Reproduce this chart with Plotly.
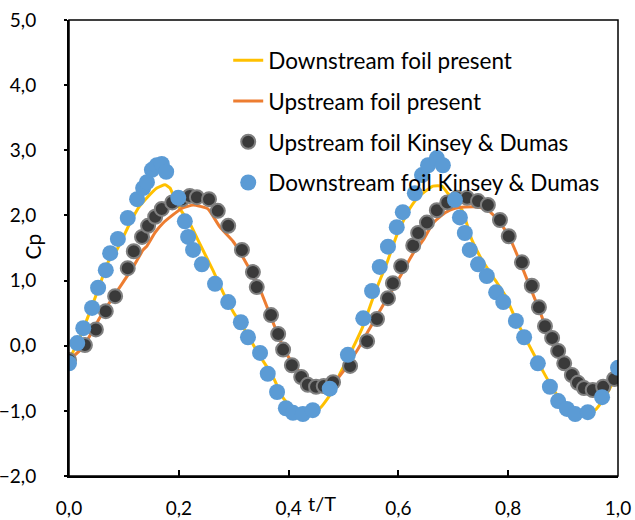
import plotly.graph_objects as go

# Downstream foil present (CFD line)
ds_x = [0.000, 0.020, 0.038, 0.056, 0.071, 0.087, 0.111, 0.126, 0.142, 0.160, 0.175, 0.184, 0.193, 0.206,
        0.220, 0.235, 0.262, 0.281, 0.299, 0.324, 0.344, 0.370, 0.390, 0.412, 0.435, 0.457, 0.475, 0.494,
        0.508, 0.534, 0.557, 0.579, 0.599, 0.621, 0.636, 0.663, 0.679, 0.690, 0.716, 0.734, 0.752, 0.776,
        0.794, 0.812, 0.836, 0.862, 0.885, 0.909, 0.934, 0.958, 0.976, 1.000]
ds_y = [-0.22, 0.13, 0.52, 0.93, 1.28, 1.47, 1.88, 2.11, 2.27, 2.42, 2.47, 2.42, 2.24, 2.05,
        1.88, 1.62, 1.16, 0.81, 0.52, 0.19, -0.11, -0.45, -0.80, -0.99, -1.03, -0.96, -0.76, -0.42,
        -0.19, 0.27, 0.81, 1.27, 1.74, 2.11, 2.28, 2.45, 2.45, 2.34, 2.08, 1.62, 1.32, 1.01,
        0.78, 0.44, 0.04, -0.37, -0.71, -0.94, -1.02, -0.99, -0.79, -0.42]

# Upstream foil present (CFD line)
us_x = [0.000, 0.026, 0.056, 0.087, 0.117, 0.135, 0.142, 0.157, 0.171, 0.188, 0.206, 0.226, 0.239, 0.253,
        0.275, 0.299, 0.324, 0.348, 0.372, 0.390, 0.408, 0.430, 0.461, 0.479, 0.499, 0.525, 0.548, 0.572,
        0.594, 0.607, 0.627, 0.645, 0.663, 0.685, 0.703, 0.721, 0.745, 0.763, 0.781, 0.800, 0.818, 0.836,
        0.858, 0.876, 0.898, 0.916, 0.940, 0.964, 0.982, 0.995, 1.000]
us_y = [-0.22, -0.02, 0.43, 0.83, 1.21, 1.47, 1.53, 1.74, 1.88, 2.00, 2.11, 2.16, 2.14, 2.10,
        1.82, 1.60, 1.25, 0.86, 0.35, -0.02, -0.28, -0.49, -0.60, -0.60, -0.40, -0.07, 0.27, 0.62,
        0.93, 1.12, 1.42, 1.62, 1.88, 2.04, 2.11, 2.13, 2.13, 2.08, 1.93, 1.70, 1.36, 0.98,
        0.52, 0.12, -0.25, -0.45, -0.60, -0.60, -0.56, -0.45, -0.37]

# Upstream foil Kinsey & Dumas (experiment)
ukd_x = [0.000, 0.029, 0.049, 0.067, 0.084, 0.107, 0.118, 0.133, 0.144, 0.157, 0.169, 0.188, 0.206, 0.220,
         0.233, 0.255, 0.271, 0.290, 0.315, 0.335, 0.342, 0.368, 0.381, 0.390, 0.406, 0.423, 0.435, 0.450,
         0.464, 0.481, 0.512, 0.543, 0.561, 0.581, 0.590, 0.605, 0.627, 0.636, 0.652, 0.670, 0.689, 0.707,
         0.725, 0.745, 0.763, 0.785, 0.801, 0.825, 0.843, 0.856, 0.867, 0.880, 0.891, 0.902, 0.916, 0.927,
         0.938, 0.954, 0.973, 0.993]
ukd_y = [-0.22, 0.01, 0.25, 0.53, 0.76, 1.19, 1.45, 1.67, 1.84, 1.98, 2.10, 2.20, 2.25, 2.30,
         2.28, 2.25, 2.07, 1.84, 1.47, 1.13, 0.90, 0.47, 0.18, -0.06, -0.30, -0.48, -0.60, -0.63,
         -0.62, -0.56, -0.31, 0.07, 0.41, 0.73, 0.96, 1.22, 1.54, 1.73, 1.89, 2.08, 2.20, 2.27,
         2.27, 2.22, 2.16, 1.93, 1.68, 1.28, 0.92, 0.59, 0.30, 0.12, -0.08, -0.27, -0.45, -0.57,
         -0.65, -0.68, -0.63, -0.51]

# Downstream foil Kinsey & Dumas (experiment)
dkd_x = [0.000, 0.015, 0.026, 0.042, 0.053, 0.067, 0.075, 0.089, 0.107, 0.124, 0.135, 0.142, 0.151, 0.160,
         0.169, 0.177, 0.199, 0.211, 0.217, 0.226, 0.242, 0.266, 0.290, 0.313, 0.326, 0.348, 0.362, 0.379,
         0.395, 0.408, 0.426, 0.444, 0.475, 0.508, 0.536, 0.552, 0.566, 0.581, 0.597, 0.608, 0.630, 0.643,
         0.654, 0.670, 0.681, 0.703, 0.712, 0.721, 0.730, 0.745, 0.761, 0.778, 0.791, 0.814, 0.829, 0.854,
         0.876, 0.891, 0.907, 0.922, 0.945, 0.971, 1.000]
dkd_y = [-0.27, 0.04, 0.27, 0.58, 0.89, 1.16, 1.42, 1.64, 1.96, 2.25, 2.42, 2.51, 2.70, 2.77,
         2.79, 2.67, 2.27, 1.91, 1.67, 1.47, 1.25, 0.95, 0.67, 0.36, 0.13, -0.11, -0.43, -0.71,
         -0.96, -1.03, -1.05, -0.99, -0.66, -0.14, 0.42, 0.84, 1.21, 1.52, 1.82, 2.05, 2.34, 2.62,
         2.77, 2.88, 2.77, 2.24, 1.97, 1.73, 1.47, 1.25, 1.07, 0.82, 0.67, 0.38, 0.13, -0.27,
         -0.63, -0.85, -0.97, -1.05, -1.02, -0.79, -0.34]

names = ["Downstream foil present", "Upstream foil present",
         "Upstream foil Kinsey & Dumas", "Downstream foil Kinsey & Dumas"]

FONT = "Lato"

fig = go.Figure()
fig.add_trace(go.Scatter(x=ds_x, y=ds_y, mode="lines", name=names[0], legendgroup="a",
                         line=dict(color="#FFC000", width=3, shape="spline", smoothing=0.5)))
fig.add_trace(go.Scatter(x=us_x, y=us_y, mode="lines", name=names[1], legendgroup="b",
                         line=dict(color="#ED7D31", width=3, shape="spline", smoothing=0.5)))
fig.add_trace(go.Scatter(x=ukd_x, y=ukd_y, mode="markers", name=names[2], legendgroup="c",
                         marker=dict(color="#3A3A3A", size=14, line=dict(color="#808080", width=2))))
fig.add_trace(go.Scatter(x=dkd_x, y=dkd_y, mode="markers", name=names[3], legendgroup="d",
                         marker=dict(color="#5B9BD5", size=16, line=dict(width=0))))

fig.update_layout(
    width=635, height=520,
    margin=dict(l=69, r=17, t=20, b=44),
    paper_bgcolor="white", plot_bgcolor="white",
    separators=", ",
    font=dict(family=FONT, size=18, color="black"),
    showlegend=True,
    legend=dict(x=0.290, y=0.958, xanchor="left", yanchor="top",
                bgcolor="rgba(0,0,0,0)", font=dict(family=FONT, size=22.5, color="black"),
                traceorder="grouped", tracegroupgap=8.5),
    xaxis=dict(range=[0, 1], dtick=0.2, tick0=0, tickformat=".1f", automargin=False,
               showgrid=False, zeroline=False, showline=True, linecolor="black", linewidth=2,
               ticks="inside", ticklen=6, tickcolor="black", tickwidth=2,
               ticklabelstandoff=14, tickfont=dict(family=FONT, size=19)),
    yaxis=dict(range=[-2, 5], dtick=1, tick0=0, tickformat=".1f", automargin=False,
               showgrid=False, zeroline=False, showline=True, linecolor="black", linewidth=2,
               ticks="outside", ticklen=3, tickcolor="black", tickwidth=2,
               ticklabelstandoff=24, tickfont=dict(family=FONT, size=19)),
    shapes=[dict(type="rect", xref="paper", yref="paper", x0=0, y0=0, x1=1, y1=1,
                 line=dict(color="black", width=1.5), layer="above")],
    annotations=[
        dict(text="t/T", xref="paper", yref="paper", x=0.432, y=0, yshift=-27,
             xanchor="left", yanchor="middle", showarrow=False, font=dict(family=FONT, size=20)),
        dict(text="Cp", xref="paper", yref="paper", x=-0.067, y=0.504, textangle=-90,
             xanchor="center", yanchor="middle", showarrow=False, font=dict(family=FONT, size=21)),
    ],
)

fig.write_html("out.html")
